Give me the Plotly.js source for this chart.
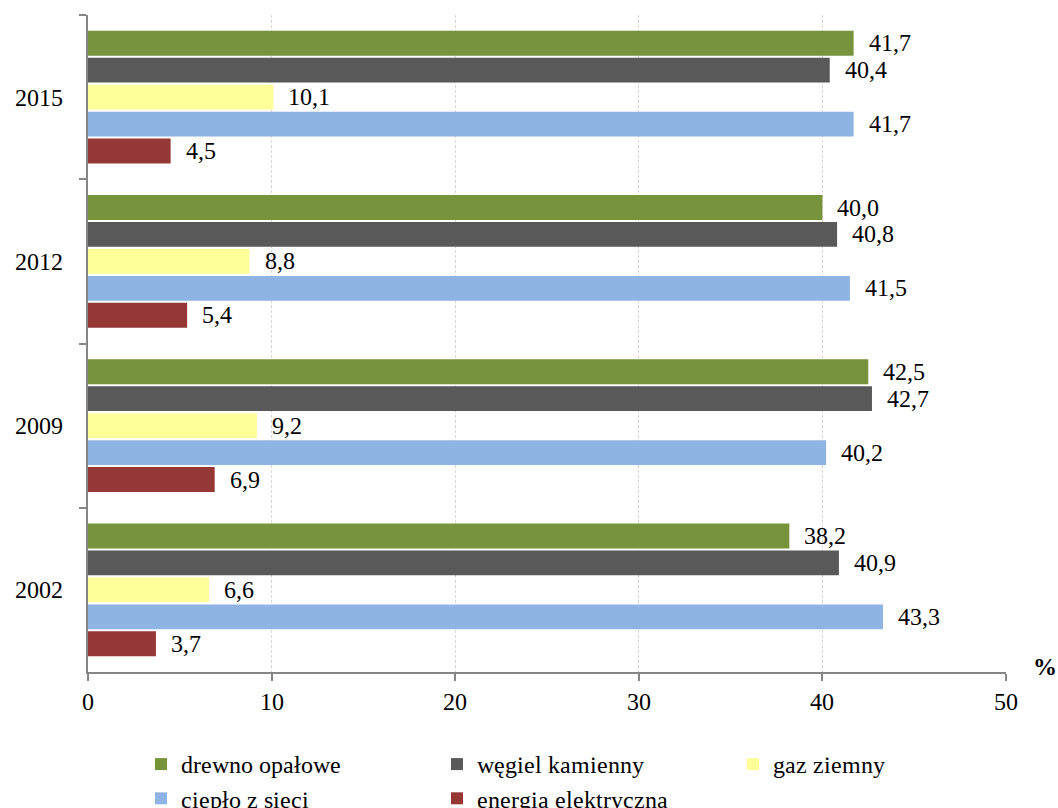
<!DOCTYPE html>
<html>
<head>
<meta charset="utf-8">
<script src="https://cdn.plot.ly/plotly-3.0.1.min.js"></script>
<style>
  @font-face {
    font-family: 'ChartSerif';
    src: local('Liberation Serif'), local('LiberationSerif'), local('LiberationSerif-Regular'), local('Times New Roman');
    font-weight: normal;
  }
  @font-face {
    font-family: 'ChartSerif';
    src: local('Liberation Serif Bold'), local('LiberationSerif-Bold'), local('Times New Roman Bold');
    font-weight: bold;
  }
  html, body { margin: 0; padding: 0; background: #ffffff; font-family: 'ChartSerif', 'Liberation Serif', serif; }
</style>
</head>
<body>
<div id="chart"></div>
<script>
// Survey years, listed top to bottom
const years = ['2015', '2012', '2009', '2002'];

// Share of households using each heating source (%)
const drewnoOpalowe = [41.7, 40.0, 42.5, 38.2];
const wegielKamienny = [40.4, 40.8, 42.7, 40.9];
const gazZiemny = [10.1, 8.8, 9.2, 6.6];
const cieploZSieci = [41.7, 41.5, 40.2, 43.3];
const energiaElektryczna = [4.5, 5.4, 6.9, 3.7];

const seriesNames = ['drewno opałowe', 'węgiel kamienny', 'gaz ziemny', 'ciepło z sieci', 'energia elektryczna'];
const seriesValues = [drewnoOpalowe, wegielKamienny, gazZiemny, cieploZSieci, energiaElektryczna];
const seriesColors = ['#77933C', '#595959', '#FFFF99', '#8EB4E3', '#953735'];

const serifFamily = 'ChartSerif, Liberation Serif, Times New Roman, serif';

function draw() {
  const traces = seriesNames.map((name, i) => ({
    type: 'bar',
    orientation: 'h',
    name: name,
    x: seriesValues[i],
    y: years,
    marker: { color: seriesColors[i], line: { width: 0 } },
    texttemplate: '\u00a0\u00a0%{x:.1f}',
    textposition: 'outside',
    constraintext: 'none',
    cliponaxis: false,
    textfont: { family: serifFamily, size: 24, color: '#000000' },
    hoverinfo: 'skip'
  }));

  const layout = {
    width: 1058,
    height: 808,
    paper_bgcolor: '#ffffff',
    plot_bgcolor: '#ffffff',
    separators: ', ',
    font: { family: serifFamily, size: 24, color: '#000000' },
    margin: { l: 88, r: 52, t: 15, b: 136, pad: 0 },
    barmode: 'group',
    bargap: 0.18,
    bargroupgap: 0.08,
    showlegend: true,
    legend: {
      orientation: 'h',
      xref: 'container',
      yref: 'container',
      x: 141 / 1058,
      xanchor: 'left',
      y: 1 - 742 / 808,
      yanchor: 'top',
      entrywidth: 251,
      entrywidthmode: 'pixels',
      font: { family: serifFamily, size: 24, color: '#000000' },
      bgcolor: 'rgba(0,0,0,0)',
      borderwidth: 0,
      tracegroupgap: 0
    },
    xaxis: {
      range: [0, 50],
      dtick: 10,
      tick0: 0,
      showgrid: true,
      gridcolor: '#d9d9d9',
      griddash: '3px,2px',
      gridwidth: 1,
      zeroline: false,
      showline: true,
      linecolor: '#868686',
      linewidth: 2,
      ticks: 'outside',
      ticklen: 7,
      tickwidth: 2,
      tickcolor: '#868686',
      tickfont: { family: serifFamily, size: 24, color: '#000000' },
      fixedrange: true
    },
    yaxis: {
      type: 'category',
      autorange: 'reversed',
      showgrid: false,
      zeroline: false,
      showline: true,
      linecolor: '#868686',
      linewidth: 2,
      ticks: 'outside',
      tickson: 'boundaries',
      ticklen: 7,
      tickwidth: 2,
      tickcolor: '#868686',
      ticklabelstandoff: 18,
      tickfont: { family: serifFamily, size: 24, color: '#000000' },
      fixedrange: true
    },
    annotations: [{
      text: '<b>%</b>',
      xref: 'paper',
      yref: 'paper',
      x: 1,
      y: 0,
      xshift: 39,
      yshift: 5,
      xanchor: 'center',
      yanchor: 'middle',
      showarrow: false,
      font: { family: serifFamily, size: 24, color: '#000000' }
    }]
  };

  Plotly.newPlot('chart', traces, layout, { displayModeBar: false });
}

// Load the serif face (regular and bold) before the text is measured
if (document.fonts && document.fonts.load) {
  Promise.all([
    document.fonts.load('24px ChartSerif'),
    document.fonts.load('bold 24px ChartSerif')
  ]).then(draw, draw);
} else {
  draw();
}
</script>
</body>
</html>
